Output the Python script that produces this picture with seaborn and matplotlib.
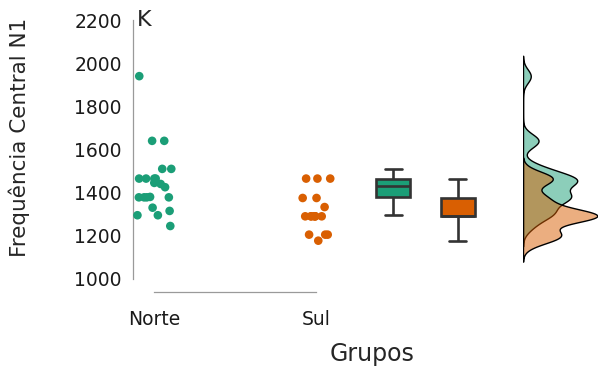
import numpy as np
import pandas as pd
import matplotlib
matplotlib.use("Agg")
import matplotlib.pyplot as plt
import seaborn as sns

# Central frequency of N1 per group
groups = ["Norte", "Sul"]
norte = [1940, 1640, 1640, 1510, 1510, 1465, 1465, 1465, 1465, 1445, 1440, 1425,
         1380, 1378, 1378, 1378, 1378, 1330, 1315, 1295, 1295, 1245]
sul = [1465, 1465, 1465, 1375, 1375, 1333, 1290, 1290, 1290, 1290, 1290, 1290,
       1290, 1205, 1205, 1205, 1177]
palette = ["#1b9e77", "#d95f02"]
y_ticks = [1000, 1200, 1400, 1600, 1800, 2000, 2200]

# horizontal layout of the three panels (points, boxes, densities)
strip_pos = [0.0, 1.0]
box_pos = [1.48, 1.88]

sns.set_style("white")
plt.rcParams["font.family"] = ["DejaVu Sans"]

df = pd.DataFrame({
    "group": ["Norte"] * len(norte) + ["Sul"] * len(sul),
    "value": norte + sul,
})
df["strip_x"] = df["group"].map(dict(zip(groups, strip_pos)))
df["box_x"] = df["group"].map(dict(zip(groups, box_pos)))

left_px = 133
fig = plt.figure(figsize=(5.98, 3.71), dpi=100)
ax = fig.add_axes([left_px / 598, 79 / 371, (598 - left_px) / 598, 287 / 371])

np.random.seed(7)
sns.stripplot(data=df, x="strip_x", y="value", hue="group", palette=palette,
              native_scale=True, orient="x", jitter=0.11, size=6.2,
              linewidth=0, legend=False, ax=ax)

sns.boxplot(data=df, x="box_x", y="value", hue="group", palette=palette,
            native_scale=True, orient="x", width=0.52, dodge=False,
            showfliers=False, saturation=1, linecolor="#333333",
            linewidth=1.9, legend=False, ax=ax)

ax.set_xlim(-(154.3 - left_px) / 161.4, (598 - 154.3) / 161.4)
ax.set_ylim(939, 2270)
ax.set_xticks(strip_pos)
ax.set_xticklabels(groups, fontsize=13.5)
ax.set_yticks(y_ticks)
ax.set_yticklabels([str(t) for t in y_ticks], fontsize=13.5)
ax.tick_params(axis="both", direction="out", length=5, width=0.9,
               color="#9a9a9a", labelcolor="#1a1a1a")
ax.tick_params(axis="x", pad=8)
ax.tick_params(axis="y", pad=3)
for side in ["top", "right"]:
    ax.spines[side].set_visible(False)
for side in ["left", "bottom"]:
    ax.spines[side].set_color("#9a9a9a")
    ax.spines[side].set_linewidth(0.9)
ax.spines["left"].set_bounds(1000, 2200)
ax.spines["bottom"].set_bounds(0, 1)
ax.set_xlabel("Grupos", fontsize=17)
ax.xaxis.set_label_coords((372 - left_px) / (598 - left_px), -0.175)
ax.set_ylabel("Frequência Central N1", fontsize=15.5)
ax.yaxis.set_label_coords(-(left_px - 30) / (598 - left_px), 0.538)
ax.grid(False)

# Densities, bandwidth from R's nrd0 rule
def nrd0_factor(v):
    v = np.asarray(v, float)
    sd = v.std(ddof=1)
    q75, q25 = np.percentile(v, [75, 25])
    lo = min(sd, (q75 - q25) / 1.34)
    return 0.9 * lo * len(v) ** -0.2 / sd

dax = fig.add_axes([523 / 598, 79 / 371, 75 / 598, 287 / 371], sharey=ax)
for vals, col in zip([norte, sul], palette):
    sns.kdeplot(y=vals, ax=dax, fill=True, color=col, alpha=0.5,
                edgecolor="black", linewidth=1.0, cut=3,
                bw_method=nrd0_factor(vals))
dax.set_xlim(0, dax.dataLim.x1 * 1.01)
dax.axis("off")

fig.text(137 / 598, 1 - 20 / 371, "K", fontsize=16, va="center", ha="left")

fig.savefig("out.png", dpi=100)
